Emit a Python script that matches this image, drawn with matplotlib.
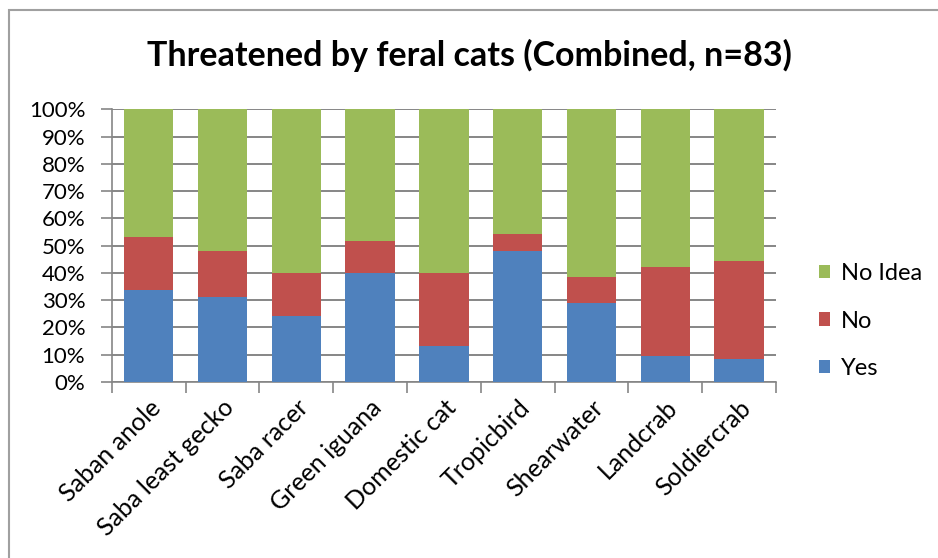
import matplotlib
matplotlib.use("Agg")
import matplotlib.pyplot as plt
from matplotlib.patches import Rectangle
from matplotlib.ticker import FixedLocator, PercentFormatter
import numpy as np

plt.rcParams['font.family'] = ['Lato', 'DejaVu Sans']

categories = ["Saban anole", "Saba least gecko", "Saba racer", "Green iguana",
              "Domestic cat", "Tropicbird", "Shearwater", "Landcrab", "Soldiercrab"]
yes = [33.7, 31.3, 24.1, 39.8, 13.3, 48.2, 28.9, 9.6, 8.4]
no = [19.3, 16.9, 15.7, 12.0, 26.5, 6.0, 9.6, 32.5, 36.1]
no_idea = [round(100 - y - n, 1) for y, n in zip(yes, no)]
yticks = list(range(0, 101, 10))

colors = {"Yes": "#4F81BD", "No": "#C0504D", "No Idea": "#9BBB59"}
grid_color = "#868686"

fig = plt.figure(figsize=(9.38, 5.58), dpi=100)
ax = fig.add_axes([0.1191, 0.3154, 0.7082, 0.4887])

x = np.arange(len(categories))
w = 0.67
b_yes = ax.bar(x, yes, w, color=colors["Yes"], label="Yes", zorder=3)
b_no = ax.bar(x, no, w, bottom=yes, color=colors["No"], label="No", zorder=3)
b_ni = ax.bar(x, no_idea, w, bottom=np.array(yes) + np.array(no),
              color=colors["No Idea"], label="No Idea", zorder=3)

ax.set_xlim(-0.5, len(categories) - 0.5)
ax.set_ylim(0, 100)
ax.yaxis.set_major_locator(FixedLocator(yticks))
ax.yaxis.set_major_formatter(PercentFormatter(decimals=0))
ax.grid(axis="y", color=grid_color, linewidth=1.4, zorder=0)

for side in ("top", "right"):
    ax.spines[side].set_visible(False)
for side in ("left", "bottom"):
    ax.spines[side].set_color(grid_color)
    ax.spines[side].set_linewidth(1.2)

ax.tick_params(axis="y", length=8, width=1.2, color=grid_color,
               labelsize=16, pad=11)
ax.set_xticks(x)
ax.set_xticklabels(categories, rotation=45, ha="right",
                   rotation_mode="anchor", fontsize=18)
ax.tick_params(axis="x", which="major", length=0, pad=10)
ax.set_xticks(np.arange(len(categories) + 1) - 0.5, minor=True)
ax.tick_params(axis="x", which="minor", length=8, width=1.2, color=grid_color)

fig.text(0.5, 1 - 55 / 558, "Threatened by feral cats (Combined, n=83)",
         ha="center", va="center", fontsize=24.5, fontweight="bold")

handles = [b_ni, b_no, b_yes]
fig.legend(handles, ["No Idea", "No", "Yes"], loc="center left",
           bbox_to_anchor=(0.850, 1 - 321 / 558), frameon=False, fontsize=17,
           handlelength=0.5, handleheight=0.5, handletextpad=0.45,
           labelspacing=1.12)

# chart-area border
fig.patches.append(Rectangle((9 / 938, -0.1), 1.2, 1 - 10 / 558 + 0.1,
                             transform=fig.transFigure, fill=False,
                             edgecolor="#A0A0A0", linewidth=1.5))

fig.savefig("out.png", dpi=100)
